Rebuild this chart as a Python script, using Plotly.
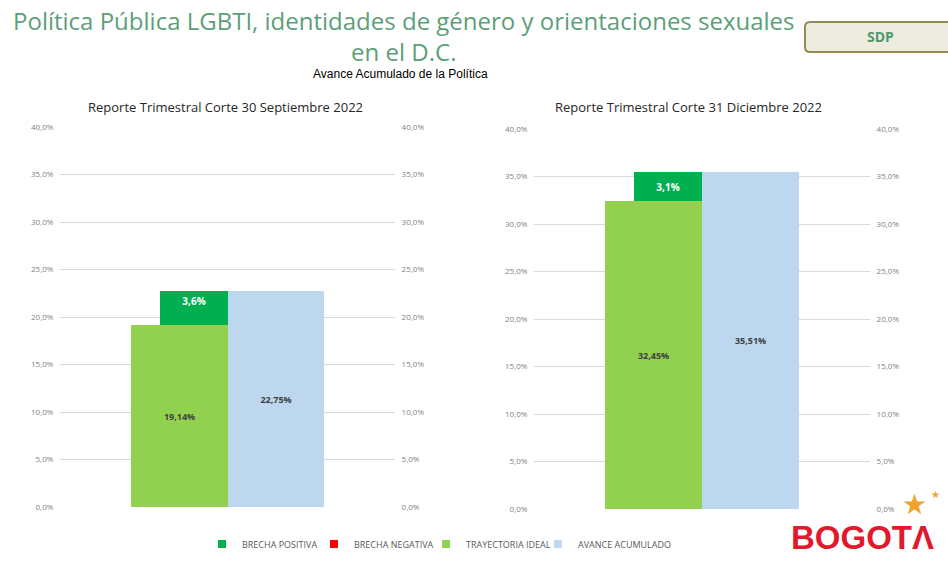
import plotly.graph_objects as go

# ---------------- data ----------------
periods = ["Reporte Trimestral Corte 30 Septiembre 2022",
           "Reporte Trimestral Corte 31 Diciembre 2022"]
trayectoria_ideal = [19.14, 32.45]
avance_acumulado = [22.75, 35.51]
brecha_positiva = [3.61, 3.06]
brecha_negativa = [0.0, 0.0]
labels_ideal = ["19,14%", "32,45%"]
labels_avance = ["22,75%", "35,51%"]
labels_brecha = ["3,6%", "3,1%"]
tick_vals = [0, 5, 10, 15, 20, 25, 30, 35, 40]
tick_text = ["0,0%", "5,0%", "10,0%", "15,0%", "20,0%", "25,0%", "30,0%", "35,0%", "40,0%"]
legend_names = ["BRECHA POSITIVA", "BRECHA NEGATIVA", "TRAYECTORIA IDEAL", "AVANCE ACUMULADO"]

# ---------------- style ----------------
C_POS = "#00b050"
C_NEG = "#ff0000"
C_IDEAL = "#92d050"
C_AVANCE = "#bdd7ee"
GRID = "#d9d9d9"
TICK = "#7f7f7f"
FONT = "Open Sans, Noto Sans, Liberation Sans, sans-serif"
W, H = 948, 567

fig = go.Figure()

axes = [("x", "y", "y2"), ("x2", "y3", "y4")]
anchors = ["end", "middle"]
for i, (xa, ya, ya_r) in enumerate(axes):
    fig.add_trace(go.Bar(
        x=[0], y=[trayectoria_ideal[i]], width=[1.0], xaxis=xa, yaxis=ya,
        marker=dict(color=C_IDEAL, line=dict(width=0)),
        text=[labels_ideal[i]], textposition="inside", insidetextanchor="middle",
        textangle=0, textfont=dict(size=9, color="#404040", family=FONT, weight="bold"),
        showlegend=False, hoverinfo="skip"))
    fig.add_trace(go.Bar(
        x=[1], y=[avance_acumulado[i]], width=[1.0], xaxis=xa, yaxis=ya,
        marker=dict(color=C_AVANCE, line=dict(width=0)),
        text=[labels_avance[i]], textposition="inside", insidetextanchor="middle",
        textangle=0, textfont=dict(size=9, color="#404040", family=FONT, weight="bold"),
        showlegend=False, hoverinfo="skip"))
    fig.add_trace(go.Bar(
        x=[0.15], y=[brecha_positiva[i]], base=[trayectoria_ideal[i]], width=[0.7],
        xaxis=xa, yaxis=ya,
        marker=dict(color=C_POS, line=dict(width=0)),
        text=[labels_brecha[i]], textposition="inside", insidetextanchor=anchors[i],
        textangle=0, textfont=dict(size=10, color="white", family=FONT, weight="bold"),
        showlegend=False, hoverinfo="skip"))
    fig.add_trace(go.Bar(
        x=[0.15], y=[brecha_negativa[i]], base=[trayectoria_ideal[i]], width=[0.7],
        xaxis=xa, yaxis=ya, marker=dict(color=C_NEG, line=dict(width=0)),
        showlegend=False, hoverinfo="skip"))
    # secondary (right) axis carrier
    fig.add_trace(go.Scatter(x=[None], y=[None], xaxis=xa, yaxis=ya_r,
                             mode="markers", showlegend=False, hoverinfo="skip"))

# legend entries
for name, col in zip(legend_names, [C_POS, C_NEG, C_IDEAL, C_AVANCE]):
    fig.add_trace(go.Scatter(x=[None], y=[None], mode="markers", name=name,
                             marker=dict(symbol="square", size=8, color=col)))
# spacer entry so the last legend label is not clipped
fig.add_trace(go.Scatter(x=[None], y=[None], mode="markers", name=" ",
                         marker=dict(symbol="square", size=1, color="rgba(0,0,0,0)")))

ydom_l = [1 - 507 / H, 1 - 127 / H]
ydom_r = [1 - 509 / H, 1 - 129 / H]
xdom_l = [60 / W, 395 / W]
xdom_r = [534 / W, 870 / W]

yax = dict(range=[0, 40], tickvals=tick_vals, ticktext=tick_text, automargin=False,
           showgrid=True, gridcolor=GRID, gridwidth=1, zeroline=False, showline=False,
           ticks="outside", ticklen=4, tickcolor="rgba(0,0,0,0)",
           tickfont=dict(size=8, color=TICK, family=FONT), fixedrange=True)
xax = dict(range=[-1.24, 2.24], showticklabels=False, showgrid=False, zeroline=False,
           showline=False, ticks="", fixedrange=True, automargin=False)

fig.update_layout(
    width=W, height=H, autosize=False,
    margin=dict(l=0, r=0, t=0, b=0, pad=0, autoexpand=False),
    paper_bgcolor="white", plot_bgcolor="white",
    barmode="overlay", bargap=0,
    font=dict(family=FONT),
    xaxis=dict(xax, domain=xdom_l, anchor="y"),
    xaxis2=dict(xax, domain=xdom_r, anchor="y3"),
    yaxis=dict(yax, domain=ydom_l, anchor="x", side="left"),
    yaxis2=dict(yax, domain=ydom_l, anchor="x", side="right", overlaying="y", showgrid=False),
    yaxis3=dict(yax, domain=ydom_r, anchor="x2", side="left"),
    yaxis4=dict(yax, domain=ydom_r, anchor="x2", side="right", overlaying="y3", showgrid=False),
    legend=dict(orientation="h", x=202 / W, xanchor="left", y=1 - 544 / H, yanchor="middle",
                font=dict(size=9, color="#595959", family=FONT),
                entrywidth=67, bgcolor="rgba(0,0,0,0)", itemclick=False, itemdoubleclick=False),
    showlegend=True,
)

ann = []
# main title (two lines)
ann.append(dict(text="Política Pública LGBTI, identidades de género y orientaciones sexuales<br>en el D.C.",
                x=404 / W, y=1 - 36 / H, xref="paper", yref="paper", showarrow=False,
                xanchor="center", yanchor="middle", align="center",
                font=dict(size=24, color="#5c9f78", family=FONT)))
ann.append(dict(text="Avance Acumulado de la Política", x=400 / W, y=1 - 74 / H,
                xref="paper", yref="paper", showarrow=False, xanchor="center", yanchor="middle",
                font=dict(size=12, color="#000000",
                          family="Liberation Sans Narrow, Arial Narrow, Liberation Sans, sans-serif")))
# subplot titles
ann.append(dict(text=periods[0], x=225 / W, y=1 - 107 / H, xref="paper", yref="paper",
                showarrow=False, xanchor="center", yanchor="middle",
                font=dict(size=13, color="#262626", family=FONT)))
ann.append(dict(text=periods[1], x=688 / W, y=1 - 107 / H, xref="paper", yref="paper",
                showarrow=False, xanchor="center", yanchor="middle",
                font=dict(size=13, color="#262626", family=FONT)))
# SDP badge text
ann.append(dict(text="<b>SDP</b>", x=880 / W, y=1 - 37 / H, xref="paper", yref="paper",
                showarrow=False, xanchor="center", yanchor="middle",
                font=dict(size=14, color="#4e9a6a", family=FONT)))
# Bogota logo
ann.append(dict(text="<b>BOGOTΛ</b>", x=862 / W, y=1 - 537 / H, xref="paper", yref="paper",
                showarrow=False, xanchor="center", yanchor="middle",
                font=dict(size=33, color="#e1192d", family="Liberation Sans, Arial, sans-serif")))
ann.append(dict(text="★", x=914 / W, y=1 - 503 / H, xref="paper", yref="paper",
                showarrow=False, xanchor="center", yanchor="middle",
                font=dict(size=28, color="#f2a12a")))
ann.append(dict(text="★", x=935 / W, y=1 - 494 / H, xref="paper", yref="paper",
                showarrow=False, xanchor="center", yanchor="middle",
                font=dict(size=10, color="#f2a12a")))
fig.update_layout(annotations=ann)

# SDP rounded box
x0, x1, y0, y1 = 805 / W, 955 / W, 1 - 22 / H, 1 - 52 / H
rx, ry = 5 / W, 5 / H
path = (f"M {x0+rx},{y0} L {x1},{y0} L {x1},{y1} L {x0+rx},{y1} "
        f"Q {x0},{y1} {x0},{y1+ry} L {x0},{y0-ry} Q {x0},{y0} {x0+rx},{y0} Z")
fig.add_shape(type="path", path=path, xref="paper", yref="paper",
              fillcolor="#eeebe0", line=dict(color="#948a54", width=2), layer="below")

fig.write_html("out.html", config={"displayModeBar": False},
               post_script="document.body.style.margin='0';document.body.style.overflow='hidden';")
